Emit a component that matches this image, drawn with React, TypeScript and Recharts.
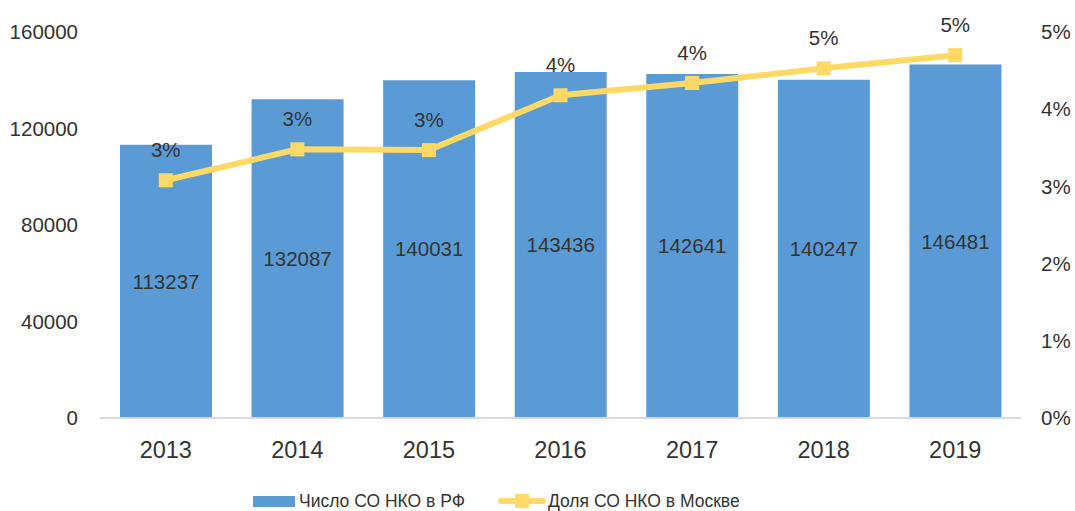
import React from 'react';
import {
  ComposedChart,
  Bar,
  Line,
  XAxis,
  YAxis,
  Legend,
  LabelList,
} from 'recharts';

const years = ['2013', '2014', '2015', '2016', '2017', '2018', '2019'];
const countRF = [113237, 132087, 140031, 143436, 142641, 140247, 146481];
const shareMoscow = [3.08, 3.48, 3.47, 4.18, 4.34, 4.53, 4.7];
const leftTicks = [0, 40000, 80000, 120000, 160000];
const rightTicks = [0, 1, 2, 3, 4, 5];

const BAR_NAME = 'Число СО НКО в РФ';
const LINE_NAME = 'Доля СО НКО в Москве';

const data = years.map((year, i) => ({
  year,
  count: countRF[i],
  share: shareMoscow[i],
}));

const FONT = '"Liberation Sans", Arial, sans-serif';
const TEXT = '#333333';
const BLUE = '#5B9BD5';
const YELLOW = '#FFD966';

const SquareDot = (props: any) => {
  const { cx, cy, index } = props;
  if (cx == null || cy == null) return null;
  return <rect key={`dot-${index}`} x={cx - 7} y={cy - 7} width={14} height={14} fill={YELLOW} />;
};

const renderLegend = () => (
  <div
    style={{
      display: 'flex',
      alignItems: 'center',
      paddingLeft: 253,
      height: 20,
      fontFamily: FONT,
      fontSize: 17.5,
      color: TEXT,
    }}
  >
    <span style={{ display: 'inline-block', width: 42, height: 11, background: BLUE, marginRight: 4 }} />
    <span>{BAR_NAME}</span>
    <svg width={48} height={14} style={{ marginLeft: 33, marginRight: 2 }}>
      <line x1={3} y1={7} x2={45} y2={7} stroke={YELLOW} strokeWidth={6} strokeLinecap="round" />
      <rect x={17} y={0} width={14} height={14} fill={YELLOW} />
    </svg>
    <span>{LINE_NAME}</span>
  </div>
);

export default function App() {
  return (
    <div style={{ position: 'absolute', left: 0, top: 0, background: '#fff' }}>
      <ComposedChart
        width={1075}
        height={511}
        data={data}
        margin={{ top: 32, right: 0, left: 0, bottom: 23 }}
        style={{ fontFamily: FONT }}
      >
        <XAxis
          dataKey="year"
          axisLine={{ stroke: '#d9d9d9', strokeWidth: 2 }}
          tickLine={false}
          tickSize={0}
          tickMargin={23}
          height={50}
          tick={{ fill: TEXT, fontSize: 23.5 }}
        />
        <YAxis
          yAxisId="left"
          domain={[0, 160000]}
          ticks={leftTicks}
          axisLine={false}
          tickLine={false}
          tickSize={0}
          tickMargin={22}
          width={100}
          tick={{ fill: TEXT, fontSize: 20.5 }}
        />
        <YAxis
          yAxisId="right"
          orientation="right"
          domain={[0, 5]}
          ticks={rightTicks}
          axisLine={false}
          tickLine={false}
          tickSize={0}
          tickMargin={20}
          width={54}
          tickFormatter={(v: number) => `${v}%`}
          tick={{ fill: TEXT, fontSize: 20.5 }}
        />
        <Legend
          content={renderLegend}
          wrapperStyle={{ top: 491, bottom: 'auto', left: 0, width: 1075 }}
        />
        <Bar yAxisId="left" dataKey="count" name={BAR_NAME} fill={BLUE} barSize={92} isAnimationActive={false}>
          <LabelList dataKey="count" position="center" fill={TEXT} fontSize={20.5} />
        </Bar>
        <Line
          yAxisId="right"
          dataKey="share"
          name={LINE_NAME}
          stroke={YELLOW}
          strokeWidth={6}
          dot={SquareDot}
          activeDot={false}
          isAnimationActive={false}
        >
          <LabelList
            dataKey="share"
            position="top"
            offset={23}
            fill={TEXT}
            fontSize={20.5}
            formatter={(v: any) => `${Math.round(Number(v))}%`}
          />
        </Line>
      </ComposedChart>
    </div>
  );
}
